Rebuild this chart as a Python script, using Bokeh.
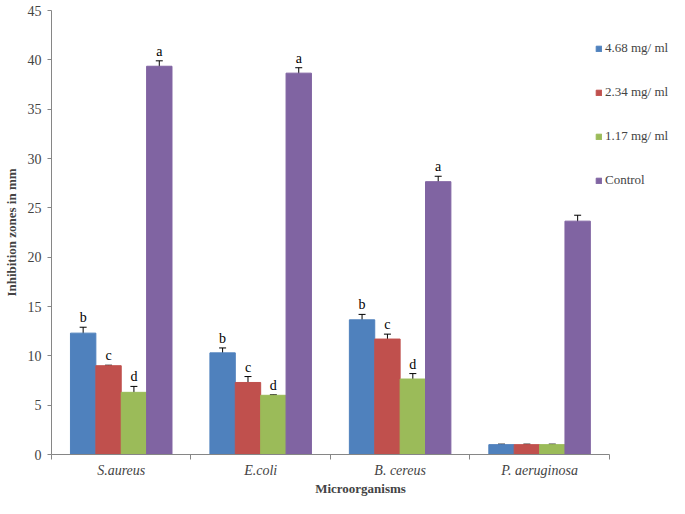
from bokeh.plotting import figure
from bokeh.models import (ColumnDataSource, Range1d, FixedTicker, Whisker, TeeHead,
                          Legend, LegendItem)
from bokeh.transform import dodge
from bokeh.core.properties import value
from bokeh.embed import file_html
from bokeh.resources import INLINE

categories = ["S.aureus", "E.coli", "B. cereus", "P. aeruginosa"]
series = ["4.68 mg/ ml", "2.34 mg/ ml", "1.17 mg/ ml", "Control"]
colors = ["#4F81BD", "#C0504D", "#9BBB59", "#8064A2"]

v468 = [12.3, 10.3, 13.65, 1.0]
v234 = [9.0, 7.3, 11.7, 1.0]
v117 = [6.3, 6.0, 7.65, 1.0]
vctrl = [39.35, 38.65, 27.65, 23.65]

e468 = [0.6, 0.5, 0.55, 0.05]
e234 = [0.05, 0.6, 0.5, 0.05]
e117 = [0.6, 0.05, 0.55, 0.05]
ectrl = [0.55, 0.55, 0.55, 0.6]

l468 = ["b", "b", "b", ""]
l234 = ["c", "c", "c", ""]
l117 = ["d", "d", "d", ""]
lctrl = ["a", "a", "a", ""]

y_ticks = [0, 5, 10, 15, 20, 25, 30, 35, 40, 45]

SERIF = "Liberation Serif"
n = len(categories)
frame_w = 669 - 53
cat_px = 139.0

p = figure(width=669, height=498, output_backend="svg", toolbar_location=None,
           x_range=Range1d(0, frame_w / cat_px), y_range=Range1d(0, 45),
           min_border_left=45, min_border_right=0, min_border_top=10, min_border_bottom=0)
p.outline_line_color = None
p.border_fill_color = "white"
p.grid.visible = False
p.background_fill_color = "white"

xs = [i + 0.5 for i in range(n)]
bw = 0.182
offsets = [-1.5 * bw, -0.5 * bw, 0.5 * bw, 1.5 * bw]

items = []
for vals, errs, labs, col, name, off in zip(
        [v468, v234, v117, vctrl], [e468, e234, e117, ectrl],
        [l468, l234, l117, lctrl], colors, series, offsets):
    src = ColumnDataSource(dict(
        x=xs, top=vals,
        upper=[v + e for v, e in zip(vals, errs)],
        lower=[v - e for v, e in zip(vals, errs)],
        lab=labs))
    r = p.vbar(x=dodge("x", off, range=p.x_range), top="top", width=bw, bottom=0,
               source=src, fill_color=col, line_color=col)
    w = Whisker(source=src, base=dodge("x", off, range=p.x_range), upper="upper", lower="lower",
                line_color="black", line_width=1,
                upper_head=TeeHead(size=7, line_color="black", line_width=1),
                lower_head=TeeHead(size=7, line_color="black", line_width=1))
    p.add_layout(w)
    p.text(x=dodge("x", off, range=p.x_range), y="upper", text="lab", source=src,
           text_align="center", text_baseline="bottom", y_offset=-2,
           text_font=value(SERIF), text_font_size="14px", text_color="black")
    items.append(LegendItem(label=name, renderers=[r]))

legend = Legend(items=items, location=(544, 266), orientation="vertical",
                glyph_width=7, glyph_height=7, label_standoff=3, label_height=15,
                spacing=28, padding=0, margin=0,
                label_text_font=SERIF, label_text_font_size="13px",
                border_line_alpha=0, background_fill_alpha=0)
p.add_layout(legend)

p.yaxis.ticker = FixedTicker(ticks=y_ticks)
p.yaxis.axis_line_color = "#868686"
p.yaxis.major_tick_line_color = "#868686"
p.yaxis.major_tick_out = 4
p.yaxis.major_tick_in = 0
p.yaxis.minor_tick_line_color = None
p.yaxis.major_label_standoff = 6
p.yaxis.major_label_text_font = SERIF
p.yaxis.major_label_text_font_size = "14px"
p.yaxis.axis_label = "Inhibition zones in mm"
p.yaxis.axis_label_text_font = SERIF
p.yaxis.axis_label_text_font_style = "bold"
p.yaxis.axis_label_text_font_size = "13px"
p.yaxis.axis_label_standoff = 6

p.xaxis.bounds = (0, n)
p.xaxis.ticker = FixedTicker(ticks=xs, minor_ticks=list(range(n + 1)))
p.xaxis.major_label_overrides = {x: c for x, c in zip(xs, categories)}
p.xaxis.axis_line_color = "#868686"
p.xaxis.major_tick_line_color = None
p.xaxis.major_tick_out = 0
p.xaxis.major_tick_in = 0
p.xaxis.minor_tick_line_color = "#868686"
p.xaxis.minor_tick_out = 5
p.xaxis.minor_tick_in = 0
p.xaxis.major_label_standoff = 3
p.xaxis.major_label_text_font = SERIF
p.xaxis.major_label_text_font_style = "italic"
p.xaxis.major_label_text_font_size = "14px"
p.xaxis.axis_label = "Microorganisms"
p.xaxis.axis_label_text_font = SERIF
p.xaxis.axis_label_text_font_style = "bold"
p.xaxis.axis_label_text_font_size = "13px"
p.xaxis.axis_label_standoff = 0

open("out.html", "w").write(file_html(p, INLINE))
